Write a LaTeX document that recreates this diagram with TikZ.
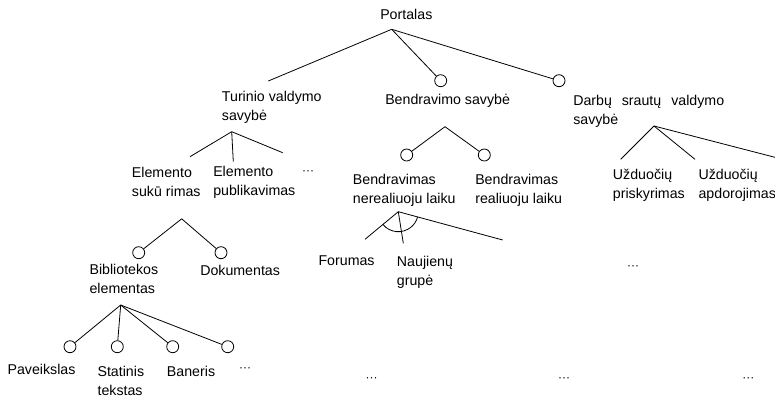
\documentclass[tikz,border=0pt]{standalone}
\usepackage{fontspec}
\setmainfont{Liberation Sans}
\usetikzlibrary{calc}
\tikzset{
  feature/.style={
    anchor=north west, inner sep=0pt, align=left,
    font=\fontsize{10.65}{14.2}\selectfont
  },
  etc/.style={inner sep=0pt, font=\fontsize{9}{12}\selectfont},
  optional/.style={circle, draw, inner sep=0pt, minimum size=9pt, line width=0.6pt},
  link/.style={line width=0.6pt},
}

\begin{document}
\begin{tikzpicture}[x=0.75pt, y=-0.75pt]
\useasboundingbox (0,0) rectangle (775,397);

% labels
\node[feature] (portal) at (380,9) {Portalas};
\node[feature] (turinio) at (221.7,90.7) {Turinio valdymo\\savybė};
\node[feature] (bendr) at (385,94) {Bendravimo savybė};
\node[feature] (darbu) at (573,94.7) {Darbų\hspace{0.7em}srautų\hspace{0.7em}valdymo\\savybė};
\node[feature] (elSuk) at (131.7,167.3) {Elemento\\sukū rimas};
\node[feature] (elPub) at (213,165.7) {Elemento\\publikavimas};
\node[etc] (etcTur) at (308,173) {···};
\node[feature] (biblio) at (89.3,264) {Bibliotekos\\elementas};
\node[feature] (dokum) at (200,265) {Dokumentas};
\node[feature] (paveik) at (7.3,364) {Paveikslas};
\node[feature] (statin) at (97.3,365.7) {Statinis\\tekstas};
\node[feature] (baner) at (166.7,365.7) {Baneris};
\node[etc] (etcBib) at (245,370) {···};
\node[feature] (bnr) at (352.7,174) {Bendravimas\\nerealiuoju laiku};
\node[feature] (brl) at (475,174) {Bendravimas\\realiuoju laiku};
\node[feature] (forum) at (318.3,255.7) {Forumas};
\node[feature] (naujie) at (396.7,255.7) {Naujienų\\grupė};
\node[etc] (etcMid) at (633,268) {···};
\node[feature] (uzPris) at (612.7,169) {Užduočių\\priskyrimas};
\node[feature] (uzApd) at (698.3,169) {Užduočių\\apdorojimas};
\node[etc] (etcA) at (371.5,379.5) {···};
\node[etc] (etcB) at (564,379.5) {···};
\node[etc] (etcC) at (748.3,379.5) {···};

% branch points
\coordinate (jRoot) at (391.7,29.3);
\coordinate (jTur) at (231.7,131.7);
\coordinate (jEl) at (181.7,218.8);
\coordinate (jBib) at (120.7,305);
\coordinate (jBen) at (445,126.7);
\coordinate (jNer) at (398.3,211.7);
\coordinate (jDarb) at (654,126);

% ends of the links
\coordinate (eTur) at (268.3,81);
\node[optional] (cBen) at (440.7,80.7) {};
\node[optional] (cDarb) at (559,80.7) {};
\coordinate (eSuk) at (190,156.7);
\coordinate (ePub) at (233.3,161.7);
\coordinate (eMore) at (282.7,152.7);
\node[optional] (cBib) at (138.7,252.7) {};
\node[optional] (cDok) at (221,252.7) {};
\node[optional] (cPav) at (70,346.7) {};
\node[optional] (cStat) at (117.3,346.7) {};
\node[optional] (cBan) at (172.7,346.7) {};
\node[optional] (cEtc) at (227.7,346.7) {};
\node[optional] (cNer) at (406.7,155) {};
\node[optional] (cReal) at (484.3,155) {};
\coordinate (eFor) at (365,239.3);
\coordinate (eNau) at (403.3,243.3);
\coordinate (eOther) at (502.7,240);
\coordinate (ePris) at (620.7,159.3);
\coordinate (eApd) at (695,159.3);
\coordinate (eRest) at (790,161.2);

\draw[link] (jRoot) -- (eTur);
\draw[link] (jRoot) -- (cBen);
\draw[link] (jRoot) -- (cDarb);
\draw[link] (jTur) -- (eSuk);
\draw[link] (jTur) -- (ePub);
\draw[link] (jTur) -- (eMore);
\draw[link] (jEl) -- (cBib);
\draw[link] (jEl) -- (cDok);
\draw[link] (jBib) -- (cPav);
\draw[link] (jBib) -- (cStat);
\draw[link] (jBib) -- (cBan);
\draw[link] (jBib) -- (cEtc);
\draw[link] (jBen) -- (cNer);
\draw[link] (jBen) -- (cReal);
\draw[link] (jNer) -- (eFor);
\draw[link] (jNer) -- (eNau);
\draw[link] (jNer) -- (eOther);
\draw[link] (jDarb) -- (ePris);
\draw[link] (jDarb) -- (eApd);
\draw[link] (jDarb) -- (eRest);

% or-group arc
\draw[link] ([shift={(219.6:15pt)}]jNer) arc[start angle=219.6, end angle=344.8, radius=15pt];

\end{tikzpicture}
\end{document}
